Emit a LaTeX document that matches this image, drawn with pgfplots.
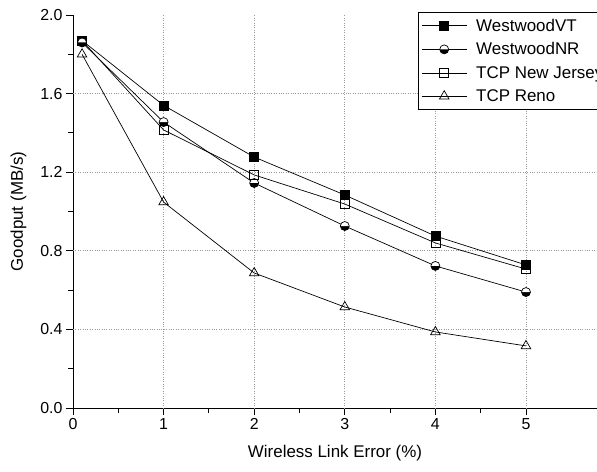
\documentclass[border=0pt]{standalone}
\usepackage{pgfplots}
\pgfplotsset{compat=1.18}
\usepackage{fontspec}
\setmainfont{Liberation Sans}
\usetikzlibrary{plotmarks}
\begin{document}
\begin{tikzpicture}[x=1bp,y=1bp]
  \useasboundingbox (-73,-64) rectangle (524,408);
  \begin{axis}[
      at={(0,0)}, anchor=south west,
      scale only axis,
      width=524bp, height=393bp,
      xmin=0, xmax=5.784,
      ymin=0, ymax=2.0,
      axis lines*=left,
      axis line style={line width=0.9pt},
      xtick={0,1,2,3,4,5},
      ytick={0,0.4,0.8,1.2,1.6,2.0},
      minor xtick={0.5,1.5,2.5,3.5,4.5},
      minor ytick={0.2,0.6,1.0,1.4,1.8},
      tick align=outside,
      major tick length=7bp,
      minor tick length=5bp,
      every tick/.style={black, line width=0.9pt},
      extra x ticks={1,2,3,4,5},
      extra x tick labels={},
      extra y ticks={0.4,0.8,1.2,1.6},
      extra y tick labels={},
      extra tick style={grid=major, major tick length=0pt},
      major grid style={dotted, gray!80, line width=0.6pt},
      yticklabel style={/pgf/number format/.cd, fixed, fixed zerofill, precision=1},
      /pgf/number format/assume math mode=true,
      tick label style={font=\fontsize{16}{18}\selectfont},
      label style={font=\fontsize{17}{19}\selectfont},
      xlabel={Wireless Link Error (\%)},
      ylabel={Goodput (MB/s)},
      xlabel style={yshift=-2bp},
      legend style={at={(0.658,1.008)}, anchor=north west, draw=black, line width=0.8pt,
        font=\fontsize{17}{19}\selectfont, row sep=6bp, inner xsep=3bp, inner ysep=4.5bp,
        /tikz/every odd column/.append style={column sep=7bp}},
      legend image code/.code={
        \draw[mark repeat=2,mark phase=2] plot coordinates {(0cm,0cm) (0.8cm,0cm) (1.6cm,0cm)};},
      legend cell align=left,
      every axis plot/.append style={black, line width=0.7pt, mark size=4.5bp},
      mark options={solid, line width=0.7pt},
    ]
    \addplot[mark=square*, mark options={fill=black}] coordinates {
      (0.1,1.87) (1,1.54) (2,1.277) (3,1.084) (4,0.875) (5,0.728)};
    \addplot[mark=halfcircle*, mark options={fill=black, draw=black, rotate=180}] coordinates {
      (0.1,1.86) (1,1.455) (2,1.145) (3,0.926) (4,0.723) (5,0.59)};
    \addplot[mark=square, mark options={fill=white}] coordinates {
      (0.1,1.87) (1,1.415) (2,1.186) (3,1.038) (4,0.84) (5,0.707)};
    \addplot[mark=triangle, mark size=5.5bp, mark options={fill=white}] coordinates {
      (0.1,1.80) (1,1.048) (2,0.687) (3,0.514) (4,0.387) (5,0.316)};
    \legend{WestwoodVT, WestwoodNR, TCP New Jersey, TCP Reno}
  \end{axis}
\end{tikzpicture}
\end{document}
